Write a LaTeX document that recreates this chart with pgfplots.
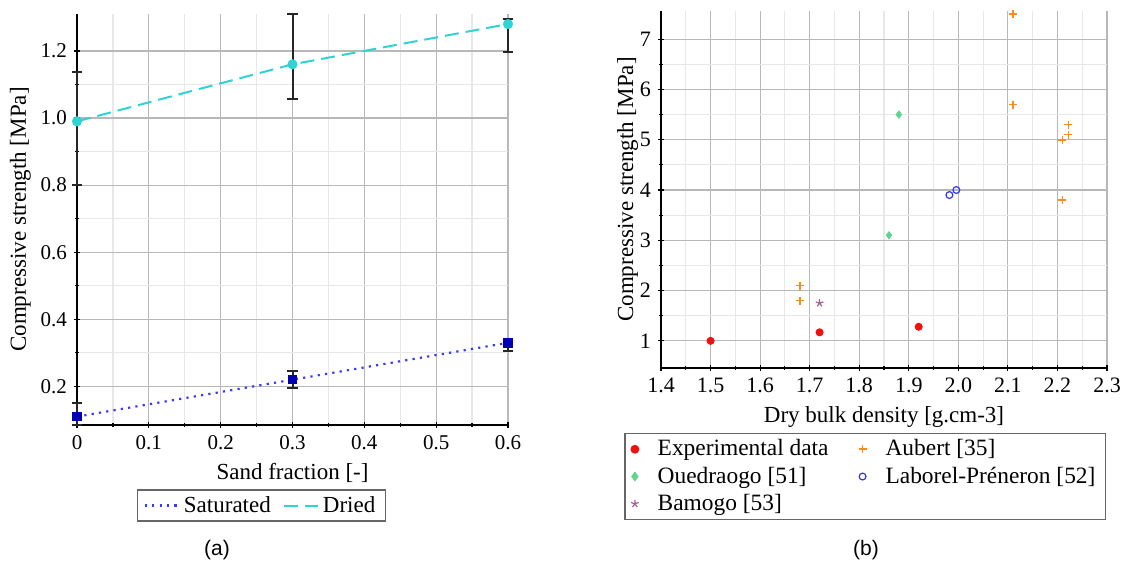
\documentclass[border=0pt]{standalone}
\usepackage{fontspec}
\setmainfont{Liberation Serif}
\newfontfamily\capfont{Liberation Sans}
\usepackage{pgfplots}
\pgfplotsset{compat=1.18}
\definecolor{satblue}{HTML}{3A3AF5}
\definecolor{satmark}{HTML}{0000B0}
\definecolor{drycyan}{HTML}{2ED3D3}
\definecolor{expred}{HTML}{F01010}
\definecolor{aubor}{HTML}{FF8C1A}
\definecolor{ouegr}{HTML}{5CD68A}
\definecolor{labbl}{HTML}{3535F0}
\definecolor{bampu}{HTML}{A0609A}
\definecolor{majgrid}{HTML}{B8B8B8}
\definecolor{mingrid}{HTML}{E8E8E8}
\begin{document}
\begin{tikzpicture}
\path (0pt,0pt) rectangle (564pt,284pt);
\pgfplotsset{
  common/.style={
    scale only axis,
    axis lines=left,
    axis line style={-, black, line width=0.8pt},
    grid=both,
    major grid style={majgrid, line width=0.6pt},
    minor grid style={mingrid, line width=0.6pt},
    tick style={black, line width=0.6pt},
    major tick length=3pt,
    minor tick length=2pt,
    tick label style={font=\fontsize{10.5}{12}\selectfont},
    label style={font=\fontsize{11.5}{13}\selectfont},
    /pgf/number format/assume math mode=true,
    legend style={draw=black!60, line width=0.8pt, font=\fontsize{11.5}{13}\selectfont, inner xsep=3pt, inner ysep=1pt},
    legend cell align=left,
  },
  ebar/.style={error bars/.cd, y dir=both, y explicit,
    error bar style={solid, black!85, line width=1pt},
    error mark options={solid, black!85, mark size=2.6pt, line width=1pt, rotate=90}},
}
% ---------------- (a)
\begin{axis}[common,
  at={(38.5pt,71.5pt)}, anchor=south west,
  width=215.5pt, height=205.5pt,
  xmin=0, xmax=0.6, ymin=0.085, ymax=1.31,
  xtick={0,0.1,0.2,0.3,0.4,0.5,0.6},
  xticklabels={0,0.1,0.2,0.3,0.4,0.5,0.6},
  ytick={0.2,0.4,0.6,0.8,1.0,1.2},
  yticklabels={0.2,0.4,0.6,0.8,1.0,1.2},
  minor x tick num=1, minor y tick num=1,
  xlabel={Sand fraction [-]},
  ylabel={Compressive strength [MPa]},
  ylabel style={yshift=-2pt},
  legend columns=2,
  legend image post style={mark=none},
  legend style={at={(0.428,-0.196)}, anchor=center, /tikz/every even column/.append style={column sep=4pt}},
  clip=false,
]
\addplot[satblue, dash pattern=on 1.1pt off 2.6pt, line width=1.1pt, mark=square*, mark size=1.8pt,
  mark options={solid, satmark, fill=satmark}, ebar]
  coordinates {(0,0.11) += (0,0.04) -= (0,0.025) (0.3,0.22) +- (0,0.025) (0.6,0.33) += (0,0.012) -= (0,0.025)};
\addlegendentry{Saturated}
\addplot[drycyan, dash pattern=on 7pt off 3.5pt, line width=1pt, mark=*, mark size=2pt,
  mark options={solid, drycyan, fill=drycyan}, ebar]
  coordinates {(0,0.99) += (0,0.146) -= (0,0.19) (0.3,1.16) += (0,0.15) -= (0,0.103) (0.6,1.28) += (0,0.015) -= (0,0.083)};
\addlegendentry{Dried}
\end{axis}
\node[font=\capfont\fontsize{10.5}{12}\selectfont] at (108.5pt,9pt) {(a)};
% ---------------- (b)
\begin{axis}[common,
  at={(330.5pt,100pt)}, anchor=south west,
  width=223pt, height=178.5pt,
  xmin=1.4, xmax=2.3, ymin=0.46, ymax=7.56,
  xtick={1.4,1.5,1.6,1.7,1.8,1.9,2.0,2.1,2.2,2.3},
  xticklabels={1.4,1.5,1.6,1.7,1.8,1.9,2.0,2.1,2.2,2.3},
  ytick={1,2,3,4,5,6,7},
  minor x tick num=1, minor y tick num=1,
  tick label style={font=\fontsize{11}{13}\selectfont},
  xlabel={Dry bulk density [g.cm-3]},
  ylabel={Compressive strength [MPa]},
  ylabel style={yshift=-6pt},
  legend columns=2,
  legend style={at={(0.458,-0.304)}, anchor=center, inner xsep=3pt,
    font=\fontsize{11.7}{13.5}\selectfont,
    /tikz/every odd column/.append style={column sep=7.5pt},
    /tikz/every even column/.append style={column sep=13pt}},
  clip=false,
]
\addplot[only marks, mark=*, mark size=1.8pt, expred] coordinates {(1.5,1.0) (1.72,1.17) (1.92,1.28)};
\addlegendentry{Experimental data}
\addplot[only marks, mark=+, mark size=2pt, aubor, line width=0.8pt] coordinates {(1.68,2.1) (1.68,1.8) (2.11,7.5) (2.11,5.7) (2.21,5.0) (2.222,5.3) (2.222,5.1) (2.21,3.8)};
\addlegendentry{Aubert [35]}
\addplot[only marks, mark=diamond*, mark size=1.8pt, ouegr] coordinates {(1.88,5.5) (1.86,3.1)};
\addlegendentry{Ouedraogo [51]}
\addplot[only marks, mark=o, mark size=1.7pt, labbl, line width=0.6pt] coordinates {(1.982,3.9) (1.996,4.0)};
\addlegendentry{Laborel-Préneron [52]}
\addplot[only marks, mark=star, mark size=2pt, bampu, line width=0.6pt] coordinates {(1.72,1.75)};
\addlegendentry{Bamogo [53]}
\end{axis}
\node[font=\capfont\fontsize{10.5}{12}\selectfont] at (433pt,9pt) {(b)};
\end{tikzpicture}
\end{document}
